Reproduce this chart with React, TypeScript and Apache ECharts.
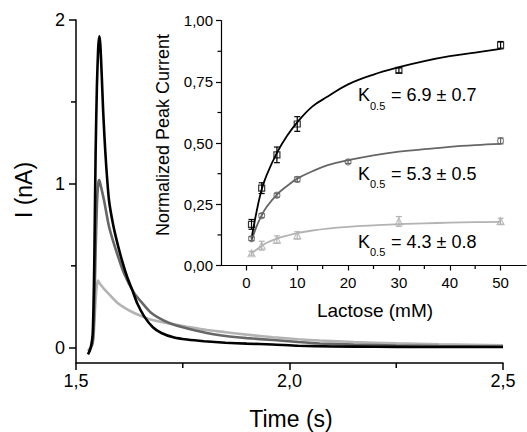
import React, { useEffect, useRef } from "react";
import * as echarts from "echarts";

// ---- Main panel: current transients I (nA) vs time (s) ----
const blackTrace: [number, number][] = [
  [1.528, -0.04], [1.532, -0.02], [1.536, 0.02], [1.539, 0.08], [1.541, 0.25], [1.543, 0.55],
  [1.546, 1.2], [1.549, 1.6], [1.552, 1.83], [1.5546, 1.9], [1.557, 1.85], [1.56, 1.68],
  [1.5635, 1.45], [1.567, 1.27], [1.571, 1.1], [1.5773, 0.9], [1.587, 0.75], [1.5967, 0.64],
  [1.608, 0.53], [1.62, 0.43], [1.632, 0.35], [1.6436, 0.27], [1.66, 0.19], [1.68, 0.125],
  [1.7, 0.09], [1.73, 0.062], [1.76, 0.05], [1.8, 0.04], [1.85, 0.031], [1.9, 0.025],
  [1.96, 0.02], [2.02, 0.012], [2.1, 0.008], [2.2, 0.006], [2.3, 0.005], [2.4, 0.005], [2.5, 0.005],
];
const grayTrace: [number, number][] = [
  [1.53, -0.02], [1.535, 0.0], [1.539, 0.03], [1.541, 0.1], [1.543, 0.25], [1.546, 0.6],
  [1.549, 0.87], [1.552, 1.0], [1.5545, 1.024], [1.557, 1.0], [1.5656, 0.9], [1.5773, 0.74],
  [1.593, 0.6], [1.6124, 0.455], [1.636, 0.335], [1.656, 0.27], [1.675, 0.215], [1.697, 0.178],
  [1.72, 0.15], [1.75, 0.125], [1.806, 0.09], [1.85, 0.072], [1.9, 0.059], [1.962, 0.047],
  [2.02, 0.035], [2.071, 0.026], [2.15, 0.019], [2.25, 0.014], [2.35, 0.011], [2.5, 0.008],
];
const lightTrace: [number, number][] = [
  [1.528, -0.02], [1.534, 0.0], [1.539, 0.03], [1.542, 0.1], [1.545, 0.25], [1.548, 0.36],
  [1.5515, 0.41], [1.556, 0.39], [1.5656, 0.36], [1.58, 0.32], [1.5967, 0.275], [1.616, 0.24],
  [1.636, 0.212], [1.656, 0.19], [1.675, 0.172], [1.7, 0.157], [1.73, 0.142], [1.76, 0.128],
  [1.806, 0.108], [1.85, 0.095], [1.9, 0.08], [1.962, 0.064], [2.02, 0.052], [2.071, 0.044],
  [2.15, 0.035], [2.25, 0.027], [2.35, 0.021], [2.5, 0.015],
];
const mainXMin = 1.5;
const mainXMax = 2.5;
const mainYMin = -0.093;
const mainYMax = 2;
const mainXTicks = [1.5, 2.0, 2.5];
const mainXMinorTicks = [1.75, 2.25];
const mainYTicks = [0, 1, 2];
const mainYMinorTicks = [0.5, 1.5];

// ---- Inset: normalized peak current vs lactose (mM) ----
const blackLactose = [1, 3, 6, 10, 30, 50];
const blackPeak = [0.168, 0.316, 0.452, 0.578, 0.797, 0.9];
const blackErr = [0.02, 0.022, 0.032, 0.03, 0.01, 0.015];
const grayLactose = [1, 3, 6, 10, 20, 50];
const grayPeak = [0.11, 0.204, 0.287, 0.352, 0.423, 0.509];
const grayErr = [0.008, 0.008, 0.008, 0.01, 0.006, 0.012];
const lightLactose = [1, 3, 6, 10, 30, 50];
const lightPeak = [0.05, 0.081, 0.106, 0.123, 0.18, 0.181];
const lightErr = [0.008, 0.018, 0.015, 0.015, 0.02, 0.012];

const fitLactose = [1, 2, 3, 4, 6, 8, 10, 13, 16, 20, 25, 30, 35, 40, 45, 50];
const blackFit = [0.11, 0.22, 0.31, 0.37, 0.46, 0.53, 0.585, 0.65, 0.69, 0.74, 0.78, 0.81, 0.835, 0.855, 0.87, 0.885];
const grayFit = [0.1, 0.16, 0.205, 0.24, 0.29, 0.325, 0.355, 0.385, 0.41, 0.43, 0.45, 0.465, 0.475, 0.485, 0.492, 0.497];
const lightFit = [0.05, 0.065, 0.08, 0.093, 0.11, 0.122, 0.132, 0.143, 0.151, 0.158, 0.164, 0.169, 0.172, 0.175, 0.177, 0.178];

const insetXMin = -5;
const insetXMax = 55;
const insetXTicks = [0, 10, 20, 30, 40, 50];
const insetXMinorTicks = [5, 15, 25, 35, 45];
const insetYMinorTicks = [0.125, 0.375, 0.625, 0.875];
const kLabels = ["= 6.9 ± 0.7", "= 5.3 ± 0.5", "= 4.3 ± 0.8"];

const BLACK = "#000000";
const GRAY = "#666666";
const LIGHT = "#b3b3b3";
const FAMILY = "'Liberation Sans', Arial, Helvetica, sans-serif";

function errData(xs: number[], ys: number[], es: number[]) {
  return xs.map((x, i) => [x, ys[i] - es[i], ys[i] + es[i]]);
}

function errorSeries(data: number[][], color: string) {
  return {
    type: "custom",
    xAxisIndex: 1,
    yAxisIndex: 1,
    z: 4,
    encode: { x: 0, y: [1, 2] },
    data,
    renderItem: (_p: any, api: any) => {
      const x = api.value(0);
      const lo = api.coord([x, api.value(1)]);
      const hi = api.coord([x, api.value(2)]);
      const w = 3;
      const st = { stroke: color, lineWidth: 1.2 };
      return {
        type: "group",
        children: [
          { type: "line", shape: { x1: lo[0], y1: lo[1], x2: hi[0], y2: hi[1] }, style: st },
          { type: "line", shape: { x1: lo[0] - w, y1: lo[1], x2: lo[0] + w, y2: lo[1] }, style: st },
          { type: "line", shape: { x1: hi[0] - w, y1: hi[1], x2: hi[0] + w, y2: hi[1] }, style: st },
        ],
      };
    },
  };
}

// minor ticks drawn through the axis scales: dir "x" = tick below x axis, "y" = tick left of y axis
function tickSeries(axisIdx: number, data: number[][], dir: string, len: number, width: number) {
  return {
    type: "custom",
    xAxisIndex: axisIdx,
    yAxisIndex: axisIdx,
    clip: false,
    silent: true,
    z: 6,
    encode: { x: 0, y: 1 },
    data,
    renderItem: (_p: any, api: any) => {
      const p = api.coord([api.value(0), api.value(1)]);
      const shape = dir === "x"
        ? { x1: p[0], y1: p[1], x2: p[0], y2: p[1] + len }
        : { x1: p[0] - len, y1: p[1], x2: p[0], y2: p[1] };
      return { type: "line", shape, style: { stroke: BLACK, lineWidth: width } };
    },
  };
}

function txt(x: number, y: number, text: string, size: number, rot = 0, align = "center") {
  return {
    type: "text",
    x,
    y,
    rotation: rot,
    style: { text, fontSize: size, fontFamily: FAMILY, fill: BLACK, align, verticalAlign: "middle" },
  };
}

export default function App() {
  const ref = useRef<HTMLDivElement>(null);
  useEffect(() => {
    if (!ref.current) return;
    const chart = echarts.init(ref.current, undefined, { renderer: "svg" });
    const axisLineStyle = { color: BLACK, width: 1.5 };
    const insetLineStyle = { color: BLACK, width: 1.2 };
    const mainTrace = (data: [number, number][], color: string, z: number) => ({
      type: "line",
      xAxisIndex: 0,
      yAxisIndex: 0,
      data,
      showSymbol: false,
      symbol: "none",
      smooth: 0.2,
      clip: false,
      z,
      lineStyle: { color, width: 2.6 },
    });
    const fitLine = (vals: number[], color: string) => ({
      type: "line",
      xAxisIndex: 1,
      yAxisIndex: 1,
      data: fitLactose.map((x, i) => [x, vals[i]]),
      showSymbol: false,
      symbol: "none",
      smooth: 0.4,
      z: 3,
      lineStyle: { color, width: 1.8 },
    });
    const pts = (xs: number[], ys: number[], color: string, symbol: string, size: number) => ({
      type: "scatter",
      xAxisIndex: 1,
      yAxisIndex: 1,
      data: xs.map((x, i) => [x, ys[i]]),
      symbol,
      symbolSize: size,
      z: 5,
      itemStyle: { color: "rgba(255,255,255,0)", borderColor: color, borderWidth: 1.2 },
    });
    const kTexts: any[] = [];
    const kY = [95, 173.5, 241.5];
    kY.forEach((y, i) => {
      kTexts.push(txt(358, y, "K", 18, 0, "left"), txt(370, y + 10.5, "0.5", 11, 0, "left"), txt(391, y, kLabels[i], 18, 0, "left"));
    });
    const lbl = { color: BLACK, fontFamily: FAMILY };
    chart.setOption({
      animation: false,
      backgroundColor: "#ffffff",
      textStyle: { fontFamily: FAMILY },
      grid: [
        { left: 76, right: 24, top: 20, bottom: 69 },
        { left: 221, right: 1, top: 20.7, bottom: 166.5 },
      ],
      xAxis: [
        {
          type: "value", gridIndex: 0, position: "bottom", min: mainXMin, max: mainXMax,
          axisLine: { onZero: false, lineStyle: axisLineStyle },
          axisTick: { customValues: mainXTicks, length: 7, lineStyle: axisLineStyle },
          splitLine: { show: false },
          axisLabel: {
            ...lbl,
            customValues: mainXTicks,
            formatter: (v: number) => v.toFixed(1).replace(".", ","),
            fontSize: 18, margin: 9,
          },
        },
        {
          type: "value", gridIndex: 1, position: "bottom", min: insetXMin, max: insetXMax,
          axisLine: { onZero: false, lineStyle: insetLineStyle },
          axisTick: { customValues: insetXTicks, length: 5, lineStyle: insetLineStyle },
          splitLine: { show: false },
          axisLabel: { ...lbl, customValues: insetXTicks, formatter: (v: number) => String(v), fontSize: 15, margin: 9 },
        },
      ],
      yAxis: [
        {
          type: "value", gridIndex: 0, position: "left", min: mainYMin, max: mainYMax,
          axisLine: { show: true, onZero: false, lineStyle: axisLineStyle },
          axisTick: { show: true, customValues: mainYTicks, length: 7, lineStyle: axisLineStyle },
          splitLine: { show: false },
          axisLabel: { ...lbl, customValues: mainYTicks, formatter: (v: number) => String(v), fontSize: 18, margin: 11 },
        },
        {
          type: "value", gridIndex: 1, position: "left", min: 0, max: 1, interval: 0.25,
          axisLine: { show: true, onZero: false, lineStyle: insetLineStyle },
          axisTick: { show: true, length: 5, lineStyle: insetLineStyle },
          splitLine: { show: false },
          axisLabel: { ...lbl, formatter: (v: number) => v.toFixed(2).replace(".", ","), fontSize: 15, margin: 8 },
        },
      ],
      graphic: [
        txt(24, 190, "I (nA)", 23, Math.PI / 2),
        txt(291, 419, "Time (s)", 23),
        txt(163, 135, "Normalized Peak Current", 18, Math.PI / 2),
        txt(375, 310, "Lactose (mM)", 19),
        ...kTexts,
      ],
      series: [
        mainTrace(lightTrace, LIGHT, 2),
        mainTrace(grayTrace, GRAY, 3),
        mainTrace(blackTrace, BLACK, 4),
        fitLine(lightFit, LIGHT),
        fitLine(grayFit, GRAY),
        fitLine(blackFit, BLACK),
        errorSeries(errData(lightLactose, lightPeak, lightErr), LIGHT),
        errorSeries(errData(grayLactose, grayPeak, grayErr), GRAY),
        errorSeries(errData(blackLactose, blackPeak, blackErr), BLACK),
        pts(lightLactose, lightPeak, LIGHT, "triangle", 7),
        pts(grayLactose, grayPeak, GRAY, "circle", 6),
        pts(blackLactose, blackPeak, BLACK, "rect", 6),
        tickSeries(0, mainXMinorTicks.map((v) => [v, mainYMin]), "x", 5, 1.5),
        tickSeries(0, mainYMinorTicks.map((v) => [mainXMin, v]), "y", 5, 1.5),
        tickSeries(1, insetXMinorTicks.map((v) => [v, 0]), "x", 3.5, 1.2),
        tickSeries(1, insetYMinorTicks.map((v) => [insetXMin, v]), "y", 3.5, 1.2),
      ],
    });
    return () => chart.dispose();
  }, []);
  return <div ref={ref} style={{ position: "fixed", left: 0, top: 0, width: 527, height: 432 }} />;
}
